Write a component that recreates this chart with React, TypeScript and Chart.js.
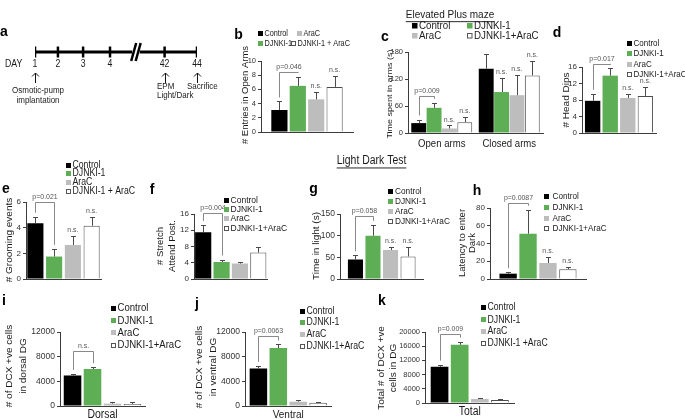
import React, { useEffect, useRef } from 'react';
import { Chart, registerables } from 'chart.js';

Chart.register(...registerables);

const CW = 685;
const CH = 419;
const FF = '"Liberation Sans", Arial, Helvetica, sans-serif';
const AXIS = '#3c3c3c';
const TEXT = '#1a1a1a';
const SOFT = '#555555';
const SQUEEZE = 0.87;

// ---------- series ----------
const SERIES = ['Control', 'DJNKI-1', 'AraC', 'DJNKI-1+AraC'];
const SERIES_SPACED = ['Control', 'DJNKI-1', 'AraC', 'DJNKI-1 + AraC'];
const SERIES_K = ['Control', 'DJNKI-1', 'AraC', 'DJNKI-1 +AraC'];
const FILL = ['#000000', '#5DAE55', '#BDBDBD', '#FFFFFF'];
const EDGE = ['#000000', '#5DAE55', '#BDBDBD', '#4d4d4d'];

// ---------- panel a : timeline ----------
const timelineDays = ['1', '2', '3', '4', '42', '44'];
const timelineSlots = [0, 0.92, 1.93, 3.01, 5.2, 6.5];
const timelineBreak = [3.9, 4.2];
const timelineEvents = [
  { day: 0, lines: ['Osmotic-pump', 'implantation'] },
  { day: 4, lines: ['EPM', 'Light/Dark'] },
  { day: 5, lines: ['Sacrifice'] },
];

// ---------- panel b : entries in open arms ----------
const bCategories = [''];
const bMean = [3.1, 6.5, 4.6, 6.35];
const bErr = [1.2, 1.3, 1.1, 1.5];
const bTicks = [0, 2, 4, 6, 8, 10];

// ---------- panel c : time spent in arms ----------
const cCategories = ['Open arms', 'Closed arms'];
const cControl = [22, 143];
const cDJNKI = [56, 91];
const cAraC = [10, 84];
const cCombo = [24, 128];
const cControlErr = [8, 32];
const cDJNKIErr = [11, 31];
const cAraCErr = [7, 46];
const cComboErr = [12, 32];
const cTicks = [0, 60, 120, 180];

// ---------- panel d : head dips ----------
const dCategories = [''];
const dMean = [7.8, 13.9, 8.5, 9.0];
const dErr = [1.7, 1.9, 1.0, 2.2];
const dTicks = [0, 4, 8, 12, 16];

// ---------- panel e : grooming ----------
const eCategories = [''];
const eMean = [4.35, 1.75, 2.65, 4.15];
const eErr = [0.5, 0.6, 0.7, 0.7];
const eTicks = [0, 2, 4, 6];

// ---------- panel f : stretch attend posture ----------
const fCategories = [''];
const fMean = [11.5, 4.2, 3.8, 6.5];
const fErr = [1.8, 0.6, 0.4, 1.3];
const fTicks = [0, 4, 8, 12, 16];

// ---------- panel g : time in light ----------
const gCategories = [''];
const gMean = [45, 100, 67, 52];
const gErr = [10, 25, 7, 22];
const gTicks = [0, 50, 100, 150];

// ---------- panel h : latency to enter dark ----------
const hCategories = [''];
const hMean = [6, 51, 18, 11];
const hErr = [1.5, 27, 7, 2.5];
const hTicks = [0, 20, 40, 60, 80];

// ---------- panel i : DCX dorsal ----------
const iCategories = ['Dorsal'];
const iMean = [4950, 6000, 380, 330];
const iErr = [250, 300, 200, 250];
const iTicks = [0, 4000, 8000, 12000];

// ---------- panel j : DCX ventral ----------
const jCategories = ['Ventral'];
const jMean = [6100, 9400, 700, 520];
const jErr = [400, 600, 350, 200];
const jTicks = [0, 4000, 8000, 12000];

// ---------- panel k : DCX total ----------
const kCategories = ['Total'];
const kMean = [10200, 16400, 1150, 850];
const kErr = [600, 900, 350, 300];
const kTicks = [0, 4000, 8000, 12000, 16000, 20000];

const single = (arr: number[]) => arr.map((v) => [v]);

// ---------- drawing helpers ----------
function txt(ctx: any, s: string, x: number, y: number, size: number, o: any = {}) {
  ctx.save();
  ctx.font = `${o.bold ? 'bold ' : ''}${size}px ${FF}`;
  ctx.fillStyle = o.color || TEXT;
  ctx.textAlign = o.align || 'center';
  ctx.textBaseline = o.baseline || 'middle';
  const k = o.noSqueeze ? 1 : SQUEEZE;
  ctx.translate(x, y);
  if (o.rotate) {
    ctx.rotate(-Math.PI / 2);
    ctx.scale(1, k);
    ctx.fillText(s, 0, 0);
  } else {
    ctx.scale(k, 1);
    ctx.fillText(s, 0, 0);
    if (o.underline) {
      const w = ctx.measureText(s).width;
      const x0 = o.align === 'left' ? 0 : -w / 2;
      ctx.strokeStyle = o.color || TEXT;
      ctx.lineWidth = 1;
      ctx.beginPath();
      ctx.moveTo(x0, size * 0.58);
      ctx.lineTo(x0 + w, size * 0.58);
      ctx.stroke();
    }
  }
  ctx.restore();
}

function drawLegend(ctx: any, lg: any) {
  lg.items.forEach((it: any) => {
    const b = lg.box;
    const x = Math.round(it.x);
    const y = Math.round(it.y - b / 2);
    ctx.save();
    if (it.s === 3) {
      ctx.fillStyle = '#fff';
      ctx.fillRect(x, y, b, b);
      ctx.strokeStyle = '#555';
      ctx.lineWidth = 1;
      ctx.strokeRect(x + 0.5, y + 0.5, b - 1, b - 1);
    } else {
      ctx.fillStyle = FILL[it.s];
      ctx.fillRect(x, y, b, b);
    }
    ctx.restore();
    txt(ctx, lg.names[it.s], x + b + lg.gap, it.y, lg.size, { align: 'left' });
  });
}

function barDecor(p: any) {
  return {
    id: 'decor_' + p.id,
    afterDraw(chart: any) {
      const ctx = chart.ctx;
      const ys = chart.scales.y;
      const xs = chart.scales.x;
      const el = (s: number, c: number) => chart.getDatasetMeta(s).data[c];
      const topOf = (s: number, c: number) => ys.getPixelForValue(p.means[s][c] + p.errs[s][c]);
      ctx.save();
      // error bars
      ctx.strokeStyle = '#4a4a4a';
      ctx.lineWidth = 1;
      p.means.forEach((row: number[], s: number) => {
        row.forEach((_m: number, c: number) => {
          const e = el(s, c);
          const x = Math.round(e.x) + 0.5;
          const yT = Math.round(topOf(s, c)) + 0.5;
          ctx.beginPath();
          ctx.moveTo(x, e.y);
          ctx.lineTo(x, yT);
          ctx.moveTo(x - p.cap, yT);
          ctx.lineTo(x + p.cap, yT);
          ctx.stroke();
        });
      });
      // significance brackets
      (p.brackets || []).forEach((br: any) => {
        const x1 = Math.round(el(br.from, br.cat).x) + 0.5;
        const x2 = Math.round(el(br.to, br.cat).x) + 0.5;
        const yb = Math.round(ys.getPixelForValue(br.value)) + 0.5;
        const l1 = topOf(br.from, br.cat) - 4;
        const l2 = topOf(br.to, br.cat) - 4;
        ctx.strokeStyle = '#6a6a6a';
        ctx.lineWidth = 0.8;
        ctx.beginPath();
        ctx.moveTo(x1, l1);
        ctx.lineTo(x1, yb);
        ctx.lineTo(x2, yb);
        ctx.lineTo(x2, l2);
        ctx.stroke();
        txt(ctx, br.label, (x1 + x2) / 2, yb - 2, p.pSize, { baseline: 'bottom', color: SOFT });
      });
      // n.s. marks
      (p.ns || []).forEach((n: any) => {
        const e = el(n.s, n.cat);
        txt(ctx, 'n.s.', e.x, topOf(n.s, n.cat) - 2, p.pSize, { baseline: 'bottom', color: SOFT });
      });
      ctx.restore();
      // category labels placed by the x scale
      if (p.catFont) {
        p.categories.forEach((cat: string, c: number) => {
          txt(ctx, cat, xs.getPixelForValue(c), p.area.b + p.catDy, p.catFont);
        });
      }
      // legend, letter, axis title, section titles
      drawLegend(ctx, p.legend);
      txt(ctx, p.letter.t, p.letter.x, p.letter.y, 14, { bold: true, color: '#000', noSqueeze: true });
      p.ytitle.lines.forEach((line: string, k: number) => {
        txt(ctx, line, p.ytitle.xs[k], p.ytitle.y, p.ytitle.size, { rotate: true });
      });
      (p.sections || []).forEach((st: any) => {
        txt(ctx, st.text, st.x, st.y, st.size, { underline: true });
      });
    },
  };
}

function barConfig(p: any) {
  const datasets = SERIES.map((name, s) => ({
    label: name,
    data: p.means[s],
    backgroundColor: FILL[s],
    borderColor: EDGE[s],
    borderWidth: s === 3 ? 1 : 0,
    categoryPercentage: p.catPct,
    barPercentage: p.barPct,
  }));
  const yW = Math.min(40, p.area.l);
  const xH = 8;
  return {
    type: 'bar',
    data: { labels: p.categories, datasets },
    options: {
      animation: false,
      responsive: false,
      maintainAspectRatio: false,
      events: [],
      layout: {
        padding: {
          left: p.area.l - yW,
          top: p.area.t,
          right: CW - p.area.r,
          bottom: CH - p.area.b - xH,
        },
      },
      plugins: { legend: { display: false }, tooltip: { enabled: false }, title: { display: false } },
      scales: {
        x: {
          type: 'category',
          grid: { display: false, drawTicks: false },
          border: { display: true, color: AXIS, width: 1 },
          ticks: { display: false },
          afterFit: (s: any) => { s.height = xH; },
        },
        y: {
          type: 'linear',
          min: 0,
          max: p.yTicks[p.yTicks.length - 1],
          afterBuildTicks: (s: any) => { s.ticks = p.yTicks.map((v: number) => ({ value: v })); },
          grid: { display: true, drawOnChartArea: false, drawTicks: true, tickLength: 3, color: AXIS, lineWidth: 1 },
          border: { display: true, color: AXIS, width: 1 },
          ticks: {
            font: { family: FF, size: p.tickFont },
            color: '#333',
            padding: 2,
            callback: (v: any) => String(v),
          },
          afterFit: (s: any) => { s.width = yW; },
        },
      },
    },
    plugins: [barDecor(p)],
  };
}

function timelineConfig() {
  const area = { l: 35, r: 197, t: 42, b: 62 };
  const pts = timelineSlots.map((x) => ({ x, y: 0 }));
  const decor = {
    id: 'decor_a',
    afterDraw(chart: any) {
      const ctx = chart.ctx;
      const xs = chart.scales.x;
      const ys = chart.scales.y;
      const y0 = ys.getPixelForValue(0);
      // break marks
      ctx.save();
      ctx.strokeStyle = '#000';
      ctx.lineWidth = 2.5;
      timelineBreak.forEach((b, k) => {
        const bx = xs.getPixelForValue(b) + (k === 0 ? 1.5 : -1.5);
        ctx.beginPath();
        ctx.moveTo(bx - 2.5, y0 + 9);
        ctx.lineTo(bx + 2.5, y0 - 9);
        ctx.stroke();
      });
      ctx.restore();
      txt(ctx, 'a', 4, 32.5, 14, { bold: true, color: '#000', noSqueeze: true });
      txt(ctx, 'DAY', 5, y0 + 12, 10, { align: 'left' });
      timelineDays.forEach((d, k) => {
        txt(ctx, d, xs.getPixelForValue(timelineSlots[k]), y0 + 12, 10);
      });
      const textLayout = [
        { align: 'center', dx: 2.5, y: 90.5 },
        { align: 'left', dx: -8.5, y: 86 },
        { align: 'left', dx: -10.5, y: 86 },
      ];
      timelineEvents.forEach((ev, k) => {
        const ax = Math.round(xs.getPixelForValue(timelineSlots[ev.day])) + 0.5;
        ctx.save();
        ctx.strokeStyle = '#111';
        ctx.lineWidth = 1;
        ctx.beginPath();
        ctx.moveTo(ax, y0 + 31);
        ctx.lineTo(ax, y0 + 21);
        ctx.moveTo(ax - 3.5, y0 + 24.5);
        ctx.lineTo(ax, y0 + 21);
        ctx.lineTo(ax + 3.5, y0 + 24.5);
        ctx.stroke();
        ctx.restore();
        const tl = textLayout[k];
        ev.lines.forEach((line, li) => {
          txt(ctx, line, ax + tl.dx, tl.y + li * 9.5, 9.2, { align: tl.align });
        });
      });
    },
  };
  return {
    type: 'scatter',
    data: {
      datasets: [
        { data: [pts[0], { x: timelineBreak[0], y: 0 }], showLine: true, borderColor: '#000', borderWidth: 3, pointRadius: 0 },
        { data: [{ x: timelineBreak[1], y: 0 }, pts[pts.length - 1]], showLine: true, borderColor: '#000', borderWidth: 3, pointRadius: 0 },
        { data: pts, showLine: false, pointStyle: 'line', rotation: 90, pointRadius: 5.5, borderWidth: 2.5, borderColor: '#000', backgroundColor: '#000' },
      ],
    },
    options: {
      animation: false,
      responsive: false,
      maintainAspectRatio: false,
      events: [],
      layout: { padding: { left: area.l, right: CW - area.r, top: area.t, bottom: CH - area.b } },
      plugins: { legend: { display: false }, tooltip: { enabled: false } },
      scales: {
        x: { type: 'linear', display: false, min: 0, max: timelineSlots[timelineSlots.length - 1] },
        y: { type: 'linear', display: false, min: -1, max: 1 },
      },
    },
    plugins: [decor],
  };
}

function makePanels() {
  const common = { cap: 2.5, pSize: 8 };
  return [
    {
      ...common, id: 'b', categories: bCategories, means: single(bMean), errs: single(bErr), yTicks: bTicks,
      area: { l: 261, r: 353, t: 61, b: 132 }, catPct: 0.8, barPct: 0.88, tickFont: 7.5,
      brackets: [{ cat: 0, from: 0, to: 1, value: 8.5, label: 'p=0.046' }],
      ns: [{ cat: 0, s: 2 }, { cat: 0, s: 3 }],
      legend: { items: [{ s: 0, x: 258, y: 33.5 }, { s: 2, x: 297, y: 33.5 }, { s: 1, x: 258, y: 43.5 }, { s: 3, x: 290.5, y: 43.5 }], names: SERIES_SPACED, size: 8.4, box: 5, gap: 1.5 },
      letter: { t: 'b', x: 238.5, y: 35.5 },
      ytitle: { lines: ['# Entries in Open Arms'], xs: [246], y: 95, size: 9.5 },
    },
    {
      ...common, id: 'c', categories: cCategories,
      means: [cControl, cDJNKI, cAraC, cCombo], errs: [cControlErr, cDJNKIErr, cAraCErr, cComboErr], yTicks: cTicks,
      area: { l: 408, r: 543, t: 52, b: 133 }, catPct: 0.91, barPct: 0.97, tickFont: 7.5, catFont: 11, catDy: 10.5,
      brackets: [{ cat: 0, from: 0, to: 1, value: 82, label: 'p=0.009' }],
      ns: [{ cat: 0, s: 2 }, { cat: 0, s: 3 }, { cat: 1, s: 1 }, { cat: 1, s: 2 }, { cat: 1, s: 3 }],
      legend: { items: [{ s: 0, x: 411.5, y: 26 }, { s: 1, x: 466.5, y: 26 }, { s: 2, x: 411.5, y: 35.5 }, { s: 3, x: 466.5, y: 35.5 }], names: SERIES, size: 11.2, box: 5.5, gap: 1.5 },
      letter: { t: 'c', x: 385, y: 37.5 },
      ytitle: { lines: ['Time spent in arms (s)'], xs: [390], y: 94, size: 9 },
      sections: [{ text: 'Elevated Plus maze', x: 450, y: 15, size: 11.5 }],
    },
    {
      ...common, id: 'd', categories: dCategories, means: single(dMean), errs: single(dErr), yTicks: dTicks,
      area: { l: 582, r: 656, t: 67, b: 133 }, catPct: 0.95, barPct: 0.875, tickFont: 8,
      brackets: [{ cat: 0, from: 0, to: 1, value: 16.8, label: 'p=0.017' }],
      ns: [{ cat: 0, s: 2 }, { cat: 0, s: 3 }],
      legend: { items: [{ s: 0, x: 626.5, y: 43.5 }, { s: 1, x: 626.5, y: 53.8 }, { s: 2, x: 626.5, y: 64.2 }, { s: 3, x: 626.5, y: 74.5 }], names: SERIES, size: 9.2, box: 5, gap: 1.5 },
      letter: { t: 'd', x: 557, y: 33 },
      ytitle: { lines: ['# Head Dips'], xs: [566.5], y: 100, size: 10 },
    },
    {
      ...common, id: 'e', categories: eCategories, means: single(eMean), errs: single(eErr), yTicks: eTicks,
      area: { l: 26, r: 101, t: 202, b: 279 }, catPct: 1, barPct: 0.86, tickFont: 8,
      brackets: [{ cat: 0, from: 0, to: 1, value: 6.0, label: 'p=0.021' }],
      ns: [{ cat: 0, s: 2 }, { cat: 0, s: 3 }],
      legend: { items: [{ s: 0, x: 66, y: 165 }, { s: 1, x: 66, y: 173.7 }, { s: 2, x: 66, y: 182.4 }, { s: 3, x: 66, y: 191 }], names: SERIES_SPACED, size: 10, box: 5, gap: 1.5 },
      letter: { t: 'e', x: 6, y: 189 },
      ytitle: { lines: ['# Grooming events'], xs: [10], y: 240, size: 10 },
    },
    {
      ...common, id: 'f', categories: fCategories, means: single(fMean), errs: single(fErr), yTicks: fTicks,
      area: { l: 194, r: 267.5, t: 214, b: 279 }, catPct: 1, barPct: 0.88, tickFont: 8,
      brackets: [{ cat: 0, from: 0, to: 1, value: 16.2, label: 'p=0.004' }],
      ns: [],
      legend: { items: [{ s: 0, x: 224, y: 200 }, { s: 1, x: 224, y: 209.3 }, { s: 2, x: 224, y: 218.6 }, { s: 3, x: 224, y: 228.2 }], names: SERIES, size: 9.8, box: 5, gap: 1.5 },
      letter: { t: 'f', x: 152, y: 190 },
      ytitle: { lines: ['# Stretch', 'Attend Post.'], xs: [161, 173], y: 246, size: 9.5 },
    },
    {
      ...common, id: 'g', categories: gCategories, means: single(gMean), errs: single(gErr), yTicks: gTicks,
      area: { l: 340, r: 423.5, t: 214, b: 279 }, catPct: 0.84, barPct: 0.86, tickFont: 8.5,
      brackets: [{ cat: 0, from: 0, to: 1, value: 146, label: 'p=0.058' }],
      ns: [{ cat: 0, s: 2 }, { cat: 0, s: 3 }],
      legend: { items: [{ s: 0, x: 387.5, y: 191.7 }, { s: 1, x: 387.5, y: 201.7 }, { s: 2, x: 387.5, y: 211.7 }, { s: 3, x: 387.5, y: 221.7 }], names: SERIES, size: 9.5, box: 5, gap: 2 },
      letter: { t: 'g', x: 313.5, y: 189 },
      ytitle: { lines: ['Time in light (s)'], xs: [317], y: 246, size: 10 },
      sections: [{ text: 'Light Dark Test', x: 371.5, y: 161, size: 12 }],
    },
    {
      ...common, id: 'h', categories: hCategories, means: single(hMean), errs: single(hErr), yTicks: hTicks,
      area: { l: 490, r: 586, t: 208, b: 279 }, catPct: 0.83, barPct: 0.87, tickFont: 8,
      brackets: [{ cat: 0, from: 0, to: 1, value: 86, label: 'p=0.0087' }],
      ns: [{ cat: 0, s: 2 }, { cat: 0, s: 3 }],
      legend: { items: [{ s: 0, x: 543.5, y: 196.7 }, { s: 1, x: 543.5, y: 207.5 }, { s: 2, x: 543.5, y: 218 }, { s: 3, x: 543.5, y: 228.3 }], names: SERIES, size: 9.4, box: 5, gap: 3.5 },
      letter: { t: 'h', x: 477, y: 191.5 },
      ytitle: { lines: ['Latency to enter', 'Dark'], xs: [462.5, 473], y: 243, size: 9.5 },
    },
    {
      ...common, id: 'i', categories: iCategories, means: single(iMean), errs: single(iErr), yTicks: iTicks,
      area: { l: 60, r: 145, t: 332, b: 406 }, catPct: 0.94, barPct: 0.88, tickFont: 8.5, catFont: 12, catDy: 9,
      brackets: [{ cat: 0, from: 0, to: 1, value: 9000, label: 'n.s.' }],
      ns: [],
      legend: { items: [{ s: 0, x: 110.5, y: 308.3 }, { s: 1, x: 110.5, y: 320.5 }, { s: 2, x: 110.5, y: 332.7 }, { s: 3, x: 110.5, y: 345 }], names: SERIES, size: 11, box: 5, gap: 1.5 },
      letter: { t: 'i', x: 4, y: 301.5 },
      ytitle: { lines: ['# of DCX +ve cells', 'in dorsal DG'], xs: [10, 23.5], y: 366, size: 10 },
    },
    {
      ...common, id: 'j', categories: jCategories, means: single(jMean), errs: single(jErr), yTicks: jTicks,
      area: { l: 245, r: 331.5, t: 332, b: 406 }, catPct: 0.92, barPct: 0.88, tickFont: 8.5, catFont: 11.5, catDy: 9,
      brackets: [{ cat: 0, from: 0, to: 1, value: 11300, label: 'p=0.0063' }],
      ns: [],
      legend: { items: [{ s: 0, x: 299.5, y: 311 }, { s: 1, x: 299.5, y: 322.5 }, { s: 2, x: 299.5, y: 334.5 }, { s: 3, x: 299.5, y: 346.5 }], names: SERIES, size: 10, box: 5, gap: 1.5 },
      letter: { t: 'j', x: 197, y: 304.5 },
      ytitle: { lines: ['# of DCX +ve cells', 'in ventral DG'], xs: [200, 213.5], y: 367, size: 10 },
    },
    {
      ...common, id: 'k', categories: kCategories, means: single(kMean), errs: single(kErr), yTicks: kTicks,
      area: { l: 425, r: 514.5, t: 332, b: 403 }, catPct: 0.9, barPct: 0.88, tickFont: 7.5, catFont: 12, catDy: 9,
      brackets: [{ cat: 0, from: 0, to: 1, value: 19300, label: 'p=0.009' }],
      ns: [],
      legend: { items: [{ s: 0, x: 480.5, y: 307.7 }, { s: 1, x: 480.5, y: 319.8 }, { s: 2, x: 480.5, y: 331.5 }, { s: 3, x: 480.5, y: 343.3 }], names: SERIES_K, size: 10, box: 5, gap: 1.5 },
      letter: { t: 'k', x: 382, y: 301.5 },
      ytitle: { lines: ['Total # of DCX +ve', 'cells in DG'], xs: [382, 394], y: 368, size: 10 },
    },
  ];
}

const CHART_COUNT = 11;

export default function App() {
  const refs = useRef<(HTMLCanvasElement | null)[]>([]);
  useEffect(() => {
    document.body.style.margin = '0';
    const configs: any[] = [timelineConfig(), ...makePanels().map(barConfig)];
    const charts = configs.map((cfg, k) => new Chart(refs.current[k] as HTMLCanvasElement, cfg));
    return () => charts.forEach((c) => c.destroy());
  }, []);
  return (
    <div style={{ position: 'relative', width: CW, height: CH, background: '#fff', overflow: 'hidden' }}>
      {Array.from({ length: CHART_COUNT }).map((_, k) => (
        <canvas
          key={k}
          ref={(el) => { refs.current[k] = el; }}
          width={CW}
          height={CH}
          style={{ position: 'absolute', left: 0, top: 0, width: CW, height: CH }}
        />
      ))}
    </div>
  );
}
